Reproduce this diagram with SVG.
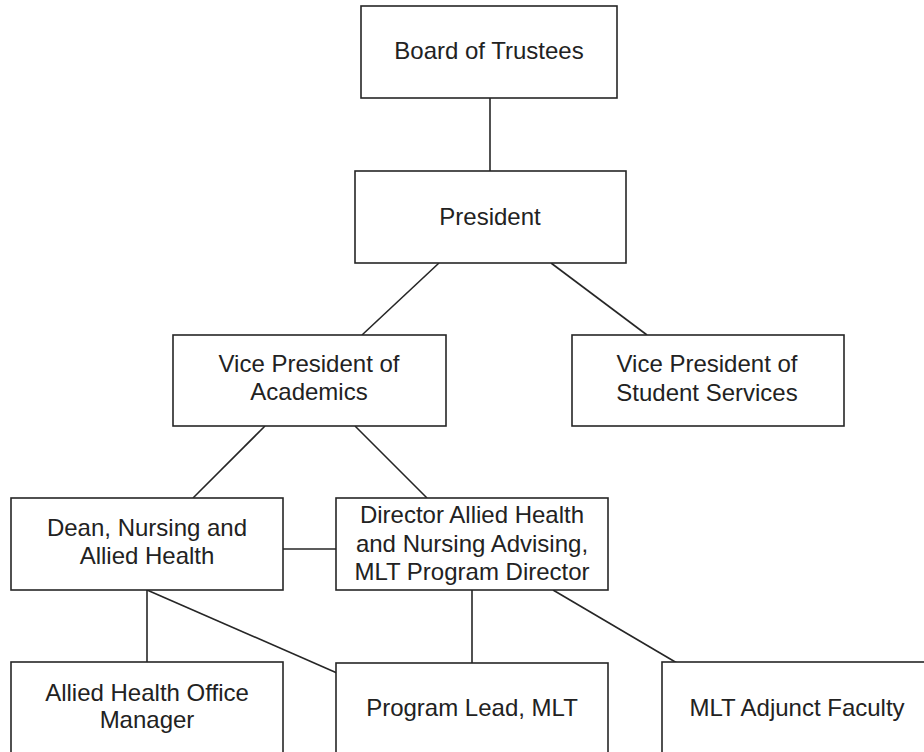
<svg xmlns="http://www.w3.org/2000/svg" width="924" height="752" viewBox="0 0 924 752">
<style>
.box{fill:#ffffff;stroke:#262626;stroke-width:1.6}
.lbl{font-family:"Liberation Sans",Arial,sans-serif;font-size:24px;fill:#222222;text-anchor:middle}
.conn line{stroke:#262626;stroke-width:1.6}
</style>
<rect width="924" height="752" fill="#ffffff"/>
<g class="conn" id="connectors">
<line x1="490" y1="98" x2="490" y2="171"/>
<line x1="439" y1="263" x2="362" y2="335"/>
<line x1="551" y1="263" x2="647" y2="335"/>
<line x1="265" y1="426" x2="193" y2="498"/>
<line x1="355" y1="426" x2="427" y2="498"/>
<line x1="283" y1="549" x2="336" y2="549"/>
<line x1="147" y1="590" x2="147" y2="662"/>
<line x1="147" y1="590" x2="337" y2="673"/>
<line x1="472" y1="590" x2="472" y2="663"/>
<line x1="553" y1="590" x2="677" y2="663"/>
</g>
<g id="board"><rect class="box" x="361" y="6" width="256" height="92"/><text class="lbl" x="489" y="59">Board of Trustees</text></g>
<g id="president"><rect class="box" x="355" y="171" width="271" height="92"/><text class="lbl" x="490" y="225">President</text></g>
<g id="vp-academics"><rect class="box" x="173" y="335" width="273" height="91"/><text class="lbl" x="309" y="372">Vice President of</text><text class="lbl" x="309" y="400">Academics</text></g>
<g id="vp-student"><rect class="box" x="572" y="335" width="272" height="91"/><text class="lbl" x="707" y="372">Vice President of</text><text class="lbl" x="707" y="401">Student Services</text></g>
<g id="dean"><rect class="box" x="11" y="498" width="272" height="92"/><text class="lbl" x="147" y="536">Dean, Nursing and</text><text class="lbl" x="147" y="564">Allied Health</text></g>
<g id="director"><rect class="box" x="336" y="498" width="272" height="92"/><text class="lbl" x="472" y="523">Director Allied Health</text><text class="lbl" x="472" y="552">and Nursing Advising,</text><text class="lbl" x="472" y="580">MLT Program Director</text></g>
<g id="office-manager"><rect class="box" x="11" y="662" width="272" height="92"/><text class="lbl" x="147" y="701">Allied Health Office</text><text class="lbl" x="147" y="728">Manager</text></g>
<g id="program-lead"><rect class="box" x="336" y="663" width="272" height="92"/><text class="lbl" x="472" y="716">Program Lead, MLT</text></g>
<g id="adjunct"><rect class="box" x="662" y="662" width="272" height="92"/><text class="lbl" x="797" y="716">MLT Adjunct Faculty</text></g>
</svg>
